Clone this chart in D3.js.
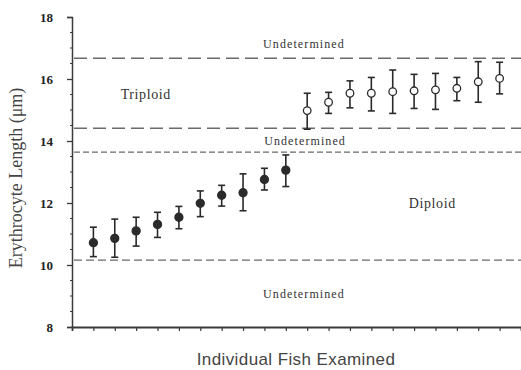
<!DOCTYPE html>
<html>
<head>
<meta charset="utf-8">
<script src="https://cdn.jsdelivr.net/npm/d3@7"></script>
<style>
  body { margin: 0; background: #fff; }
  svg { display: block; }
</style>
</head>
<body>
<div id="chart"></div>
<script>
// fish values (erythrocyte length, µm)
const diploidMean = [10.72, 10.86, 11.10, 11.31, 11.54, 11.99, 12.25, 12.33, 12.76, 13.06];
const diploidHigh = [11.22, 11.48, 11.54, 11.70, 11.89, 12.39, 12.57, 12.94, 13.12, 13.55];
const diploidLow  = [10.27, 10.25, 10.61, 10.89, 11.17, 11.56, 11.90, 11.75, 12.42, 12.53];

const triploidMean = [14.98, 15.25, 15.54, 15.54, 15.59, 15.62, 15.65, 15.70, 15.91, 16.02];
const triploidHigh = [15.54, 15.57, 15.94, 16.05, 16.29, 16.15, 16.18, 16.05, 16.56, 16.54];
const triploidLow  = [14.38, 14.89, 15.07, 14.97, 14.89, 15.05, 15.02, 15.30, 15.25, 15.52];

const yTicks = [8, 10, 12, 14, 16, 18];

// cut-off lines between the ploidy zones
const cutoffs = [16.67, 14.41, 13.64, 10.16];

// zone labels: text, x index, value
const zoneNames = ["Undetermined", "Triploid", "Undetermined", "Diploid", "Undetermined"];
const zoneX     = [9.85, 2.45, 9.9, 15.85, 9.85];
const zoneY     = [17.0, 15.35, 13.87, 11.84, 8.94];

const width = 521, height = 370;

const svg = d3.select("#chart").append("svg")
    .attr("width", width)
    .attr("height", height);

const x = d3.scaleLinear().domain([-1, 20]).range([72, 521]);
const y = d3.scaleLinear().domain([8, 18]).range([327, 17]);

const axisColor = "#3a3a3a";
const serif = "'Liberation Serif', 'Times New Roman', serif";

// dashed cut-off lines
const dashStyles = ["13,6", "13,6", "6,3", "8,4"];
const dashWidths = [1.6, 1.6, 1.2, 1.3];
svg.selectAll(".cut")
    .data(cutoffs)
    .enter().append("line")
    .attr("class", "cut")
    .attr("x1", x(-1) + 2)
    .attr("x2", width)
    .attr("y1", d => y(d))
    .attr("y2", d => y(d))
    .attr("stroke", "#6a6a6a")
    .attr("stroke-width", (d, i) => dashWidths[i])
    .attr("stroke-dasharray", (d, i) => dashStyles[i]);

// y axis
const yAxis = d3.axisLeft(y).tickValues(yTicks).tickSize(5).tickPadding(14).tickFormat(d3.format("d"));
const gy = svg.append("g").attr("transform", `translate(${x(-1)},0)`).call(yAxis);
gy.select(".domain").attr("stroke", axisColor).attr("stroke-width", 1.5);
gy.selectAll(".tick line").attr("stroke", axisColor).attr("stroke-width", 1.3);
gy.selectAll(".tick text")
    .attr("fill", "#222")
    .style("font-family", serif)
    .style("font-size", "13px")
    .style("font-weight", "bold");

// minor y ticks
svg.append("g").selectAll("line")
    .data(d3.range(8.5, 18, 0.5).filter(v => v % 2 !== 0))
    .enter().append("line")
    .attr("x1", x(-1) - 2).attr("x2", x(-1))
    .attr("y1", d => y(d)).attr("y2", d => y(d))
    .attr("stroke", axisColor).attr("stroke-width", 1);

// x axis
const xAxis = d3.axisBottom(x).tickValues(d3.range(0, 20)).tickSize(4).tickFormat("");
const gx = svg.append("g").attr("transform", `translate(0,${y(8)})`).call(xAxis);
gx.select(".domain").attr("stroke", axisColor).attr("stroke-width", 1.8);
gx.selectAll(".tick line").attr("stroke", axisColor).attr("stroke-width", 1.2);

// axis titles
svg.append("text")
    .attr("transform", `translate(22,178) rotate(-90)`)
    .attr("text-anchor", "middle")
    .attr("fill", "#444")
    .style("font-family", serif)
    .style("font-size", "18px")
    .text("Erythrocyte Length (\u03bcm)");

svg.append("text")
    .attr("x", 296)
    .attr("y", 365)
    .attr("text-anchor", "middle")
    .attr("fill", "#444")
    .style("font-family", "'Liberation Sans', Arial, sans-serif")
    .style("font-size", "17px")
    .style("letter-spacing", "0.4px")
    .text("Individual Fish Examined");

// zone labels
svg.selectAll(".zone")
    .data(zoneNames)
    .enter().append("text")
    .attr("class", "zone")
    .attr("x", (d, i) => x(zoneX[i]))
    .attr("y", (d, i) => y(zoneY[i]))
    .attr("text-anchor", "middle")
    .attr("fill", "#333")
    .style("font-family", serif)
    .style("font-size", (d, i) => (d === "Undetermined" ? "12px" : "14px"))
    .style("letter-spacing", (d, i) => (d === "Undetermined" ? "1.1px" : "0.6px"))
    .text(d => d);

// error bars + points
function drawGroup(means, highs, lows, offset, filled) {
    const g = svg.append("g");
    const pts = means.map((m, i) => ({ i: i + offset, m: m, hi: highs[i], lo: lows[i] }));

    g.selectAll(".bar").data(pts).enter().append("line")
        .attr("x1", d => x(d.i)).attr("x2", d => x(d.i))
        .attr("y1", d => y(d.hi)).attr("y2", d => y(d.lo))
        .attr("stroke", "#2a2a2a").attr("stroke-width", 1.6);

    ["hi", "lo"].forEach(k => {
        g.selectAll(".cap-" + k).data(pts).enter().append("line")
            .attr("x1", d => x(d.i) - 3.5).attr("x2", d => x(d.i) + 3.5)
            .attr("y1", d => y(d[k])).attr("y2", d => y(d[k]))
            .attr("stroke", "#2a2a2a").attr("stroke-width", 1.6);
    });

    g.selectAll("circle").data(pts).enter().append("circle")
        .attr("cx", d => x(d.i))
        .attr("cy", d => y(d.m))
        .attr("r", filled ? 4 : 3.8)
        .attr("fill", filled ? "#2b2b2b" : "#fff")
        .attr("stroke", "#2b2b2b")
        .attr("stroke-width", 1.3);
}

drawGroup(diploidMean, diploidHigh, diploidLow, 0, true);
drawGroup(triploidMean, triploidHigh, triploidLow, 10, false);
</script>
</body>
</html>
